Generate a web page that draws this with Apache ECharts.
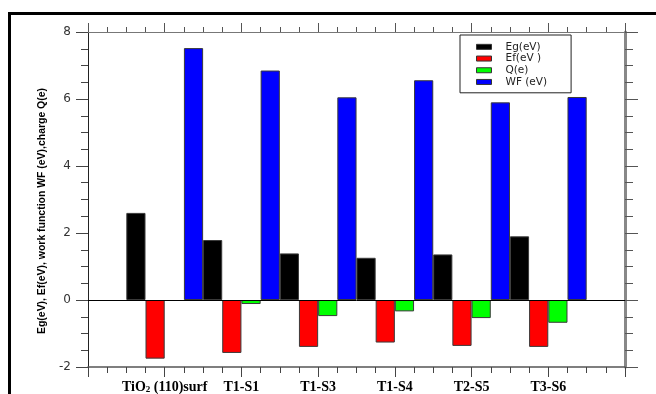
<!DOCTYPE html>
<html>
<head>
<meta charset="utf-8">
<script src="https://cdn.jsdelivr.net/npm/echarts@6/dist/echarts.min.js"></script>
<style>
html,body{margin:0;padding:0;background:#fff;}
#chart{width:656px;height:394px;}
</style>
</head>
<body>
<div id="chart"></div>
<script>
var categories = ['TiO₂ (110)surf', 'T1-S1', 'T1-S3', 'T1-S4', 'T2-S5', 'T3-S6'];
var seriesNames = ['Eg(eV)', 'Ef(eV )', 'Q(e)', 'WF (eV)'];
var egValues = [2.60, 1.79, 1.39, 1.26, 1.36, 1.90];
var efValues = [-1.75, -1.58, -1.40, -1.27, -1.37, -1.40];
var qValues = [0, -0.12, -0.48, -0.34, -0.54, -0.68];
var wfValues = [7.52, 6.85, 6.05, 6.56, 5.90, 6.06];
var yTicks = [-2, 0, 2, 4, 6, 8];
var yLabelText = 'Eg(eV), Ef(eV), work function WF (eV),charge Q(e)';

var colors = ['#000000', '#ff0000', '#00ff00', '#0000ff'];
var allValues = [egValues, efValues, qValues, wfValues];

var chart = echarts.init(document.getElementById('chart'), null, {renderer: 'canvas'});

function catLabel(v) {
  var i = Math.round(v) - 1;
  if (i < 0 || i >= categories.length) return '';
  var c = categories[i];
  return '{b|' + c.replace('₂', '}{sub|2}{b|') + '}';
}

// y-axis title font, horizontally compressed to the reference's length
var yLabelFont = 'bold 11px "Liberation Sans", Arial, sans-serif';
var measureCtx = document.createElement('canvas').getContext('2d');
measureCtx.font = yLabelFont;
var yLabelScale = 246 / measureCtx.measureText(yLabelText).width;

var series = seriesNames.map(function (name, k) {
  var s = {
    name: name,
    type: 'bar',
    xAxisIndex: 0,
    yAxisIndex: 0,
    barWidth: 19.2,
    barGap: '0%',
    itemStyle: {color: colors[k], borderColor: '#3a3a3a', borderWidth: 1},
    data: categories.map(function (c, i) {
      var v = allValues[k][i];
      var d = {value: [i + 1, v]};
      if (v === 0) d.itemStyle = {borderWidth: 0};
      return d;
    })
  };
  if (k === 0) {
    s.markLine = {
      silent: true,
      symbol: 'none',
      label: {show: false},
      lineStyle: {color: '#000', width: 1, type: 'solid'},
      data: [{yAxis: 0}]
    };
  }
  return s;
});

var option = {
  animation: false,
  backgroundColor: '#ffffff',
  grid: {left: 88, right: 31, top: 32, bottom: 25, containLabel: false},
  legend: {
    orient: 'vertical',
    left: 460,
    top: 35,
    padding: [6, 24, 5, 16],
    borderColor: '#222',
    borderWidth: 1,
    itemWidth: 15,
    itemHeight: 5,
    itemGap: 0,
    icon: 'rect',
    itemStyle: {borderColor: '#333', borderWidth: 1},
    data: seriesNames,
    formatter: function (n) { return '{g|}{t|' + n + '}'; },
    textStyle: {
      fontFamily: 'DejaVu Sans',
      fontSize: 10,
      color: '#222',
      lineHeight: 11.7,
      rich: {
        g: {width: 9},
        t: {fontFamily: 'DejaVu Sans', fontSize: 10.5, color: '#222', lineHeight: 11.7}
      }
    }
  },
  xAxis: [
    {
      type: 'value', position: 'bottom', min: 0, max: 7, interval: 1,
      splitLine: {show: false},
      axisLine: {show: true, onZero: false, lineStyle: {color: '#555', width: 1.5}},
      axisTick: {show: true, inside: false, length: 10, lineStyle: {color: '#444'}},
      minorTick: {show: true, splitNumber: 4, length: 6, lineStyle: {color: '#444'}},
      minorSplitLine: {show: false},
      axisLabel: {
        margin: 13,
        formatter: catLabel,
        rich: {
          b: {fontFamily: 'Liberation Serif', fontWeight: 'bold', fontSize: 14, color: '#000', lineHeight: 14},
          sub: {fontFamily: 'Liberation Serif', fontWeight: 'bold', fontSize: 9, color: '#000', lineHeight: 14, verticalAlign: 'bottom', padding: [5, 0, 0, 0]}
        }
      }
    },
    {
      type: 'value', position: 'top', min: 0, max: 7, interval: 1,
      splitLine: {show: false},
      axisLine: {show: true, onZero: false, lineStyle: {color: '#777', width: 1}},
      axisTick: {show: true, inside: false, length: 9, lineStyle: {color: '#555'}},
      minorTick: {show: true, splitNumber: 4, length: 5, lineStyle: {color: '#555'}},
      axisLabel: {show: false}
    }
  ],
  yAxis: [
    {
      type: 'value', position: 'left', min: -2, max: 8, interval: 2,
      splitLine: {show: false},
      axisLine: {show: true, onZero: false, lineStyle: {color: '#222', width: 1}},
      axisTick: {show: true, inside: false, length: 12, lineStyle: {color: '#444'}},
      minorTick: {show: true, splitNumber: 4, length: 7, lineStyle: {color: '#444'}},
      axisLabel: {
        margin: 17,
        fontFamily: 'DejaVu Sans', fontSize: 12, color: '#333',
        formatter: function (v) { return yTicks.indexOf(v) >= 0 ? String(v) : ''; }
      }
    },
    {
      type: 'value', position: 'right', min: -2, max: 8, interval: 2,
      splitLine: {show: false},
      axisLine: {show: true, onZero: false, lineStyle: {color: '#888', width: 3}},
      axisTick: {show: true, inside: false, length: 13, lineStyle: {color: '#555'}},
      minorTick: {show: true, splitNumber: 4, length: 8, lineStyle: {color: '#555'}},
      axisLabel: {show: false}
    }
  ],
  graphic: [
    {
      type: 'polyline',
      silent: true,
      shape: {points: [[9.5, 394], [9.5, 13.5], [656, 13.5]]},
      style: {stroke: '#000', lineWidth: 3, fill: null}
    },
    {
      type: 'text',
      silent: true,
      x: 42,
      y: 211,
      rotation: Math.PI / 2,
      scaleX: yLabelScale,
      style: {
        text: yLabelText,
        font: yLabelFont,
        fill: '#000',
        align: 'center',
        verticalAlign: 'middle'
      }
    }
  ],
  series: series
};

chart.setOption(option);
</script>
</body>
</html>
